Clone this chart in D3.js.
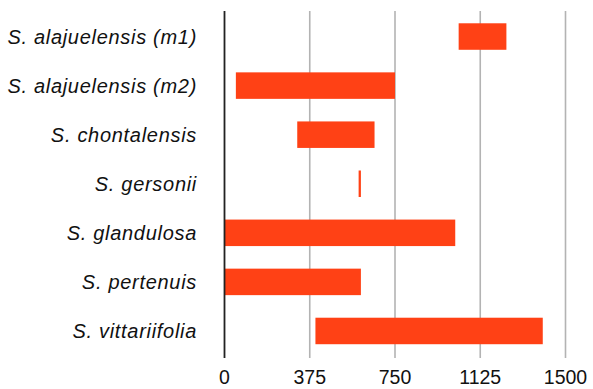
<!DOCTYPE html>
<html>
<head>
<meta charset="utf-8">
<script src="https://cdn.jsdelivr.net/npm/d3@7"></script>
<style>
  body { margin: 0; background: #fff; }
  text { font-family: "Liberation Sans", Arial, sans-serif; fill: #111; }
  .cat-label { font-style: italic; font-size: 20px; letter-spacing: 0.7px; }
  .tick-label { font-size: 19.5px; }
</style>
</head>
<body>
<svg id="chart"></svg>
<script>
// species (top to bottom)
const species = [
  "S. alajuelensis (m1)",
  "S. alajuelensis (m2)",
  "S. chontalensis",
  "S. gersonii",
  "S. glandulosa",
  "S. pertenuis",
  "S. vittariifolia"
]
// range start / end for each species
const rangeStart = [1030, 50, 320, 590, 0, 0, 400]
const rangeEnd = [1240, 750, 660, 600, 1015, 600, 1400]
const xTicks = [0, 375, 750, 1125, 1500]

const width = 593, height = 389
const svg = d3.select('#chart')
    .attr('width', width)
    .attr('height', height)

const xScale = d3.scaleLinear()
    .domain([0, 1500])
    .range([224.5, 565.5])

const yScale = d3.scaleBand()
    .domain(species)
    .range([12, 355.5])
    .paddingInner(0.46)
    .paddingOuter(0.23)

const bars = species.map((s, i) => ({ name: s, start: rangeStart[i], end: rangeEnd[i] }))

// gridlines
svg.append('g')
    .selectAll('line')
    .data(xTicks.slice(1))
    .join('line')
        .attr('x1', d => xScale(d))
        .attr('x2', d => xScale(d))
        .attr('y1', 11)
        .attr('y2', 358)
        .attr('stroke', '#b3b3b3')
        .attr('stroke-width', 1.6)

// bars
svg.append('g')
    .selectAll('rect')
    .data(bars)
    .join('rect')
        .attr('x', d => xScale(d.start))
        .attr('width', d => xScale(d.end) - xScale(d.start))
        .attr('y', d => yScale(d.name))
        .attr('height', yScale.bandwidth())
        .attr('fill', '#ff4115')

// zero axis line
svg.append('line')
    .attr('x1', xScale(0))
    .attr('x2', xScale(0))
    .attr('y1', 11)
    .attr('y2', 358)
    .attr('stroke', '#222')
    .attr('stroke-width', 1.8)

// category labels
svg.append('g')
    .selectAll('text')
    .data(species)
    .join('text')
        .attr('class', 'cat-label')
        .attr('x', 197)
        .attr('y', d => yScale(d) + yScale.bandwidth() / 2)
        .attr('dy', '0.35em')
        .attr('text-anchor', 'end')
        .text(d => d)

// x tick labels
svg.append('g')
    .selectAll('text')
    .data(xTicks)
    .join('text')
        .attr('class', 'tick-label')
        .attr('x', d => xScale(d))
        .attr('y', 384)
        .attr('text-anchor', 'middle')
        .text(d => d)
</script>
</body>
</html>
